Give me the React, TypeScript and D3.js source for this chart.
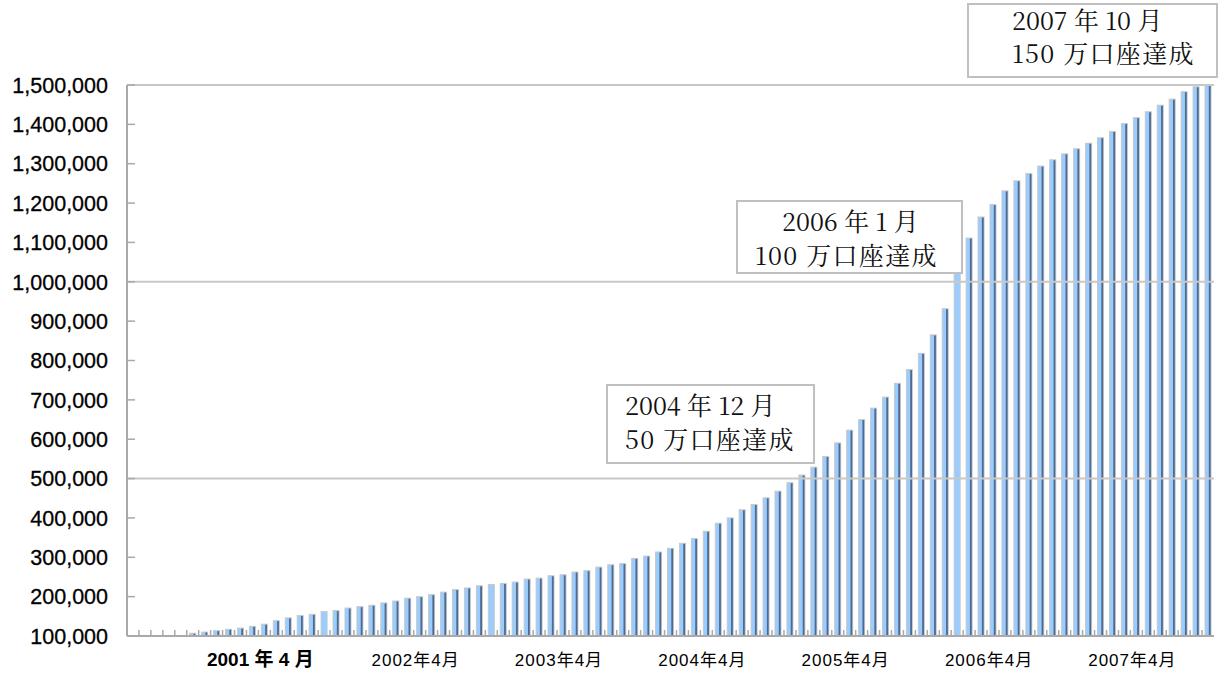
import React from 'react';
import * as d3 from 'd3';

// 口座数（月末）: 2000年4月から2007年10月まで、1か月ごと
const accounts = [
  72000, 79000, 86000, 93000, 99000,
  107000, 110000, 113500, 117000, 120000, 124500, 130000, 139000, 146000, 152000,
  155000, 162000, 164500, 171000, 174500, 178000, 184000, 189000, 196000, 200000,
  205000, 211500, 218000, 222000, 227500, 231000, 233500, 237000, 244600, 247000,
  253000, 255600, 262500, 266000, 275000, 281000, 284000, 297000, 303000, 313500,
  322700, 335500, 347500, 366000, 386500, 400000, 420700, 434000, 451000, 468000,
  489500, 509000, 529000, 556000, 590600, 623000, 650000, 679000, 707000, 742000,
  777000, 818000, 865000, 931600, 1045000, 1111000, 1164600, 1196000, 1231000, 1256500,
  1275000, 1294000, 1310000, 1325000, 1338000, 1352000, 1366000, 1382000, 1402000, 1417000,
  1432000, 1448700, 1464000, 1483000, 1495500, 1501000
];

// 色の薄い棒（影なし）
const plainMonths = ['2001-08', '2002-10', '2006-01'];

// x軸ラベル
const tickMonths = ['2001-04', '2002-04', '2003-04', '2004-04', '2005-04', '2006-04', '2007-04'];
const tickLabels = ['2001 年 4 月', '2002年4月', '2003年4月', '2004年4月', '2005年4月', '2006年4月', '2007年4月'];

// 目盛線
const gridValues = [500000, 1000000, 1500000];

// 吹き出し
const noteLines1 = ['2007 年 10 月', '150 万口座達成'];
const noteLines2 = ['2006 年 1 月', '100 万口座達成'];
const noteLines3 = ['2004 年 12 月', '50 万口座達成'];

const fmtKey = d3.timeFormat('%Y-%m');
const months = d3.timeMonth.range(new Date(2000, 3, 1), new Date(2000, 3 + accounts.length, 1)).map(fmtKey);

const App = () => {
  const width = 1222;
  const height = 675;
  const plot = { left: 127, right: 1214, top: 85, bottom: 636 };

  const x = d3.scaleBand().domain(months).range([plot.left, plot.right]).padding(0);
  const y = d3.scaleLinear().domain([100000, 1500000]).range([plot.bottom, plot.top]);
  const bw = x.bandwidth();
  const yTicks = y.ticks(14);
  const fmt = d3.format(',');

  const axisColor = '#a9a9a9';
  const gridColor = '#c8c8c8';
  const noteFont = "'Noto Serif CJK JP', 'Liberation Serif', 'Noto Sans CJK JP', serif";

  const bars = months.map((m, i) => {
    const v = accounts[i];
    if (v <= y.domain()[0]) return null;
    const cx = x(m) + bw / 2;
    const top = y(Math.min(v, y.domain()[1]));
    const plain = plainMonths.includes(m);
    return (
      <g key={m}>
        <rect x={cx - 3} y={top} width={6} height={plot.bottom - top}
          fill="#99ccff" stroke="#c8c8c8" strokeWidth={1} />
        {!plain && (
          <rect x={cx + 0.8} y={top + 0.5} width={1.8} height={plot.bottom - top - 0.5} fill="#52698c" />
        )}
      </g>
    );
  });

  // 2行目（万口座達成）は少し字間が広い
  const note = (lines, box, tx, baselines) => (
    <g>
      <rect x={box[0]} y={box[1]} width={box[2]} height={box[3]} fill="#fff" stroke="#c0c0c0" strokeWidth={2} />
      {lines.map((t, i) => (
        <text key={i} x={tx[i]} y={baselines[i]} fontFamily={noteFont} fontSize={25}
          letterSpacing={i === 1 ? 1.3 : 0} fill="#111">{t}</text>
      ))}
    </g>
  );

  return (
    <svg width={width} height={height} style={{ position: 'absolute', left: 0, top: 0, background: '#fff' }}>
      {/* category ticks */}
      {months.map(m => (
        <line key={'t' + m} x1={x(m)} x2={x(m)} y1={plot.bottom} y2={plot.bottom - 6} stroke={axisColor} strokeWidth={1.5} />
      ))}

      {bars}

      {/* gridlines */}
      {gridValues.map(v => (
        <line key={'g' + v} x1={plot.left} x2={plot.right} y1={y(v)} y2={y(v)} stroke={gridColor} strokeWidth={2} />
      ))}

      {/* y axis */}
      <line x1={plot.left} x2={plot.left} y1={plot.top} y2={plot.bottom} stroke={axisColor} strokeWidth={2} />
      {yTicks.map(v => (
        <g key={'y' + v}>
          <line x1={plot.left} x2={plot.left + 8} y1={y(v)} y2={y(v)} stroke={axisColor} strokeWidth={1.5} />
          <text x={108} y={y(v)} dy="0.36em" textAnchor="end" fontFamily="'Liberation Sans', Arial, sans-serif"
            fontSize={21.5} fill="#000" stroke="#000" strokeWidth={0.3}>{fmt(v)}</text>
        </g>
      ))}

      {/* x axis */}
      <line x1={plot.left} x2={plot.right} y1={plot.bottom} y2={plot.bottom} stroke={axisColor} strokeWidth={2} />
      {tickMonths.map((m, i) => (
        <text key={'x' + m} x={x(m) + bw / 2 + (i === 0 ? -16 : -4)} y={666} textAnchor="middle"
          fontFamily="'Liberation Sans', 'Noto Sans CJK JP', sans-serif"
          fontSize={i === 0 ? 19 : 17} fontWeight={i === 0 ? 'bold' : 'normal'}
          letterSpacing={i === 0 ? 0 : 1} fill="#000">{tickLabels[i]}</text>
      ))}

      {/* milestones */}
      {note(noteLines1, [968, 4, 249, 73], [1012, 1012], [30, 63])}
      {note(noteLines2, [737, 201, 225, 72], [782, 755], [231, 265])}
      {note(noteLines3, [607, 385, 207, 78], [625, 625], [415, 449])}
    </svg>
  );
};

export default App;
